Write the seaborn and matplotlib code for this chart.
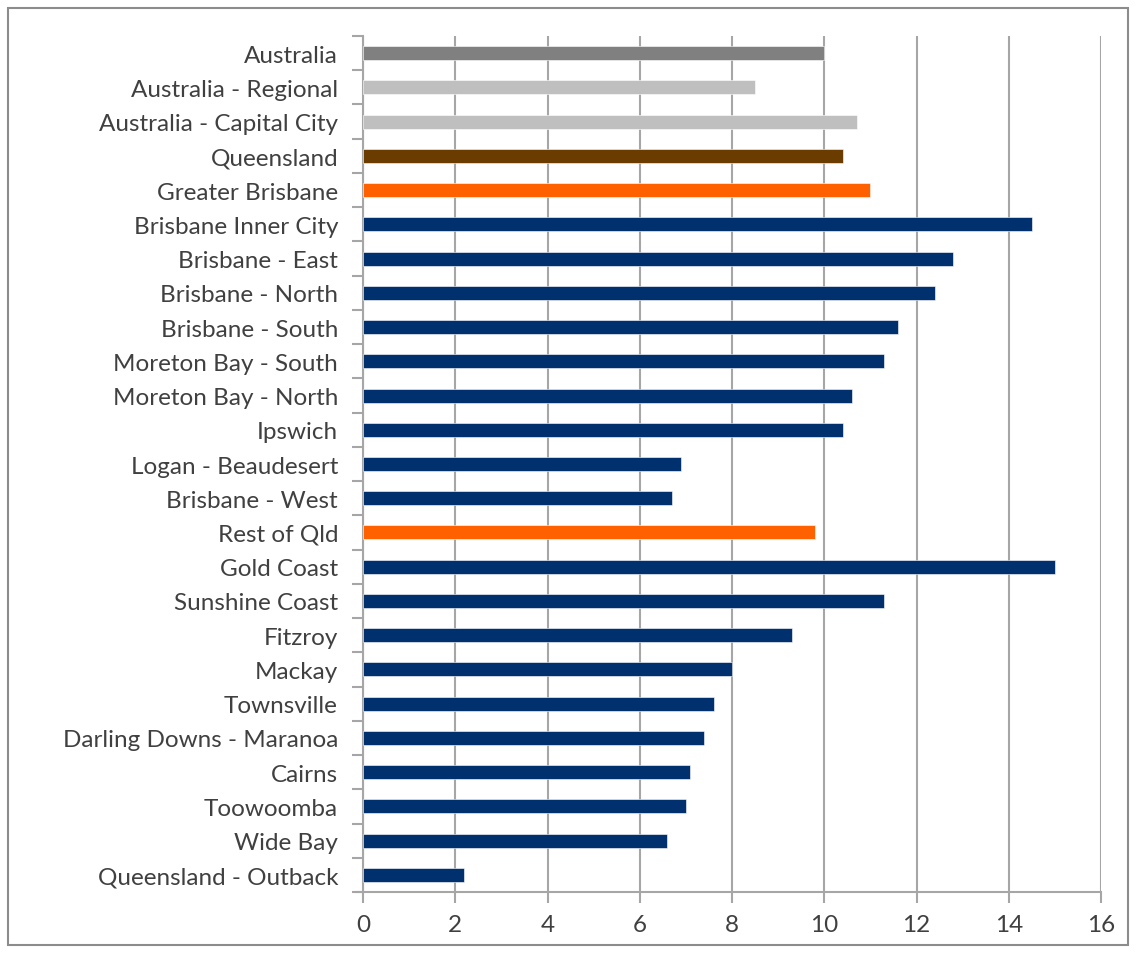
import matplotlib
matplotlib.use("Agg")
import matplotlib.pyplot as plt
import seaborn as sns
import pandas as pd
from matplotlib.patches import Rectangle

regions = ["Australia", "Australia - Regional", "Australia - Capital City", "Queensland",
           "Greater Brisbane", "Brisbane Inner City", "Brisbane - East", "Brisbane - North",
           "Brisbane - South", "Moreton Bay - South", "Moreton Bay - North", "Ipswich",
           "Logan - Beaudesert", "Brisbane - West", "Rest of Qld", "Gold Coast",
           "Sunshine Coast", "Fitzroy", "Mackay", "Townsville", "Darling Downs - Maranoa",
           "Cairns", "Toowoomba", "Wide Bay", "Queensland - Outback"]
values = [10.0, 8.5, 10.7, 10.4, 11.0, 14.5, 12.8, 12.4, 11.6, 11.3, 10.6, 10.4,
          6.9, 6.7, 9.8, 15.0, 11.3, 9.3, 8.0, 7.6, 7.4, 7.1, 7.0, 6.6, 2.2]
groups = ["aus", "aus_sub", "aus_sub", "qld", "agg"] + ["sa4"] * 9 + ["agg"] + ["sa4"] * 10
group_colors = {"aus": "#808080", "aus_sub": "#BFBFBF", "qld": "#6B3C00",
                "agg": "#FF6100", "sa4": "#00306E"}
xticks = [0, 2, 4, 6, 8, 10, 12, 14, 16]

df = pd.DataFrame({"region": regions, "value": values, "group": groups})

sns.set_theme(style="white")
plt.rcParams["font.family"] = ["Lato", "DejaVu Sans"]

fig = plt.figure(figsize=(11.36, 9.54), dpi=100)
ax = fig.add_axes([363 / 1136, 1 - 893 / 954, (1101 - 363) / 1136, (893 - 37) / 954])

sns.barplot(data=df, y="region", x="value", hue="group", palette=group_colors,
            order=regions, hue_order=list(group_colors.keys()), dodge=False,
            width=0.41, orient="h", ax=ax, legend=False, zorder=3, saturation=1,
            edgecolor="white", linewidth=0.4)

ax.set_xlim(0, 16)
ax.set_ylim(len(regions) - 0.5, -0.5)
ax.set_xticks(xticks)
ax.set_xticklabels([str(t) for t in xticks])
ax.set_xlabel("")
ax.set_ylabel("")

grid_c = "#A6A6A6"
ax.xaxis.grid(True, color=grid_c, linewidth=1.5, zorder=0)
ax.set_axisbelow(True)
for s in ["top", "right"]:
    ax.spines[s].set_visible(False)
for s in ["left", "bottom"]:
    ax.spines[s].set_color(grid_c)
    ax.spines[s].set_linewidth(1.5)
    ax.spines[s].set_zorder(2)

ax.tick_params(axis="x", colors=grid_c, length=8, width=1.5, direction="out",
               labelcolor="#404040", labelsize=17.5, pad=8)
ax.tick_params(axis="y", length=0, labelcolor="#404040", labelsize=17.5, pad=18)
ax.tick_params(axis="y", which="minor", length=8, width=1.5, colors=grid_c, left=True)
ax.set_yticks([i - 0.5 for i in range(len(regions) + 1)], minor=True)
ax.xaxis.set_tick_params(bottom=True)

# left part of bottom axis extends under the minor tick
ax.plot([-8 / 46.125, 0], [len(regions) - 0.5] * 2, color=grid_c, lw=1.5,
        clip_on=False, zorder=2)

fig.patches.append(Rectangle((8 / 1136, 1 - 946 / 954), (1128 - 8) / 1136, (946 - 9) / 954,
                             transform=fig.transFigure, fill=False,
                             edgecolor="#8C8C8C", linewidth=1.5))

fig.savefig("out.png", dpi=100, facecolor="white")
